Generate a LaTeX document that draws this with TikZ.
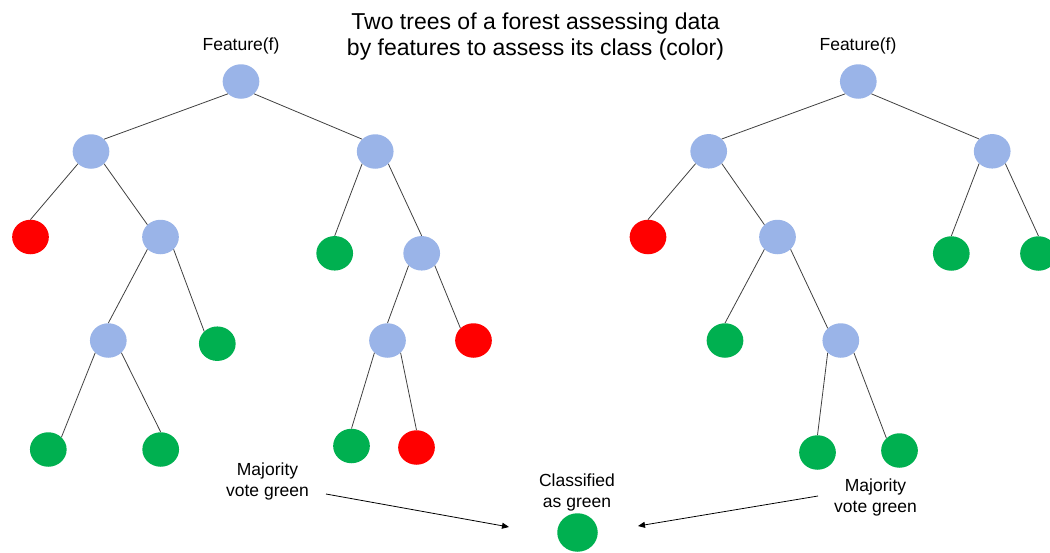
\documentclass[tikz,border=0pt]{standalone}
\usepackage{fontspec}
\setmainfont{Liberation Sans}
\usetikzlibrary{shapes.geometric,arrows.meta}
\definecolor{nodeblue}{RGB}{154,180,232}
\definecolor{leafgreen}{RGB}{0,176,80}
\definecolor{leafred}{RGB}{255,0,0}
\definecolor{edgegray}{RGB}{64,64,64}

\begin{document}
\begin{tikzpicture}[x=1pt,y=-1pt,
  dot/.style={ellipse,inner sep=0pt,minimum width=36.7pt,minimum height=34.5pt,draw=none},
  split/.style={dot,fill=nodeblue},
  gleaf/.style={dot,fill=leafgreen},
  rleaf/.style={dot,fill=leafred},
  branch/.style={draw=edgegray,line width=0.8pt},
  vote/.style={draw=black,line width=0.8pt,-{Triangle[length=7pt,width=6pt]}},
  lbl/.style={font=\fontsize{17.5}{21}\selectfont,align=center,inner sep=0pt},
  heading/.style={font=\fontsize{23}{26.5}\selectfont,align=center,inner sep=0pt}]
\useasboundingbox (0,0) rectangle (1050,552);

% headings
\node[heading] (title) at (535.5,36.5) {Two trees of a forest assessing data\\by features to assess its class (color)};
\node[lbl] (fa) at (241,46) {Feature(f)};
\node[lbl] (fb) at (858,46) {Feature(f)};

% first tree
\node[split] (a) at (241,81.5) {};
\node[split] (a1) at (91,151.5) {};
\node[split] (a2) at (375.2,151.5) {};
\node[rleaf] (a11) at (30.5,237) {};
\node[split] (a12) at (160.5,237) {};
\node[split] (a121) at (108.3,340.5) {};
\node[gleaf] (a122) at (217.3,343.7) {};
\node[gleaf] (a1211) at (48.3,449.5) {};
\node[gleaf] (a1212) at (160.7,449.5) {};
\node[gleaf] (a21) at (334.7,253.3) {};
\node[split] (a22) at (421.7,253.3) {};
\node[split] (a221) at (387.5,340.5) {};
\node[rleaf] (a222) at (473.5,340.5) {};
\node[gleaf] (a2211) at (351.5,446) {};
\node[rleaf] (a2212) at (416.5,447.5) {};

\draw[branch] (a.south west) -- (a1.north east);
\draw[branch] (a.south east) -- (a2.north west);
\draw[branch] (a1.south west) -- (a11.north);
\draw[branch] (a1.south east) -- (a12.north west);
\draw[branch] (a12.south west) -- (a121.north);
\draw[branch] (a12.south east) -- (a122.north west);
\draw[branch] (a121.south west) -- (a1211.north east);
\draw[branch] (a121.south east) -- (a1212.north);
\draw[branch] (a2.south west) -- (a21.north);
\draw[branch] (a2.south east) -- (a22.north);
\draw[branch] (a22.south west) -- (a221.north);
\draw[branch] (a22.south east) -- (a222.north west);
\draw[branch] (a221.south west) -- (a2211.north);
\draw[branch] (a221.south east) -- (a2212.north);

% second tree
\node[split] (b) at (858.3,81.5) {};
\node[split] (b1) at (708.7,151.3) {};
\node[split] (b2) at (992.2,151.3) {};
\node[rleaf] (b11) at (648,237) {};
\node[split] (b12) at (777.5,237) {};
\node[gleaf] (b121) at (725,340.5) {};
\node[split] (b122) at (840.8,340.5) {};
\node[gleaf] (b1221) at (817.5,452.5) {};
\node[gleaf] (b1222) at (899.5,450.5) {};
\node[gleaf] (b21) at (951.3,253.5) {};
\node[gleaf] (b22) at (1038.5,253.5) {};

\draw[branch] (b.south west) -- (b1.north east);
\draw[branch] (b.south east) -- (b2.north west);
\draw[branch] (b1.south west) -- (b11.north);
\draw[branch] (b1.south east) -- (b12.north west);
\draw[branch] (b12.south west) -- (b121.north);
\draw[branch] (b12.south east) -- (b122.north west);
\draw[branch] (b122.south west) -- (b1221.north);
\draw[branch] (b122.south east) -- (b1222.north west);
\draw[branch] (b2.south west) -- (b21.north);
\draw[branch] (b2.south east) -- (b22.north);

% combined result
\node[gleaf,minimum width=40.5pt,minimum height=38.5pt] (res) at (577.5,532.5) {};
\node[lbl] (cls) at (577,492.5) {Classified\\as green};
\node[lbl] (va) at (267.5,481) {Majority\\vote green};
\node[lbl] (vb) at (875.5,497) {Majority\\vote green};

\coordinate (va-s) at (326,494);
\coordinate (va-e) at (509,527);
\coordinate (vb-s) at (818,496);
\coordinate (vb-e) at (638,526);
\draw[vote] (va-s) -- (va-e);
\draw[vote] (vb-s) -- (vb-e);
\end{tikzpicture}
\end{document}
